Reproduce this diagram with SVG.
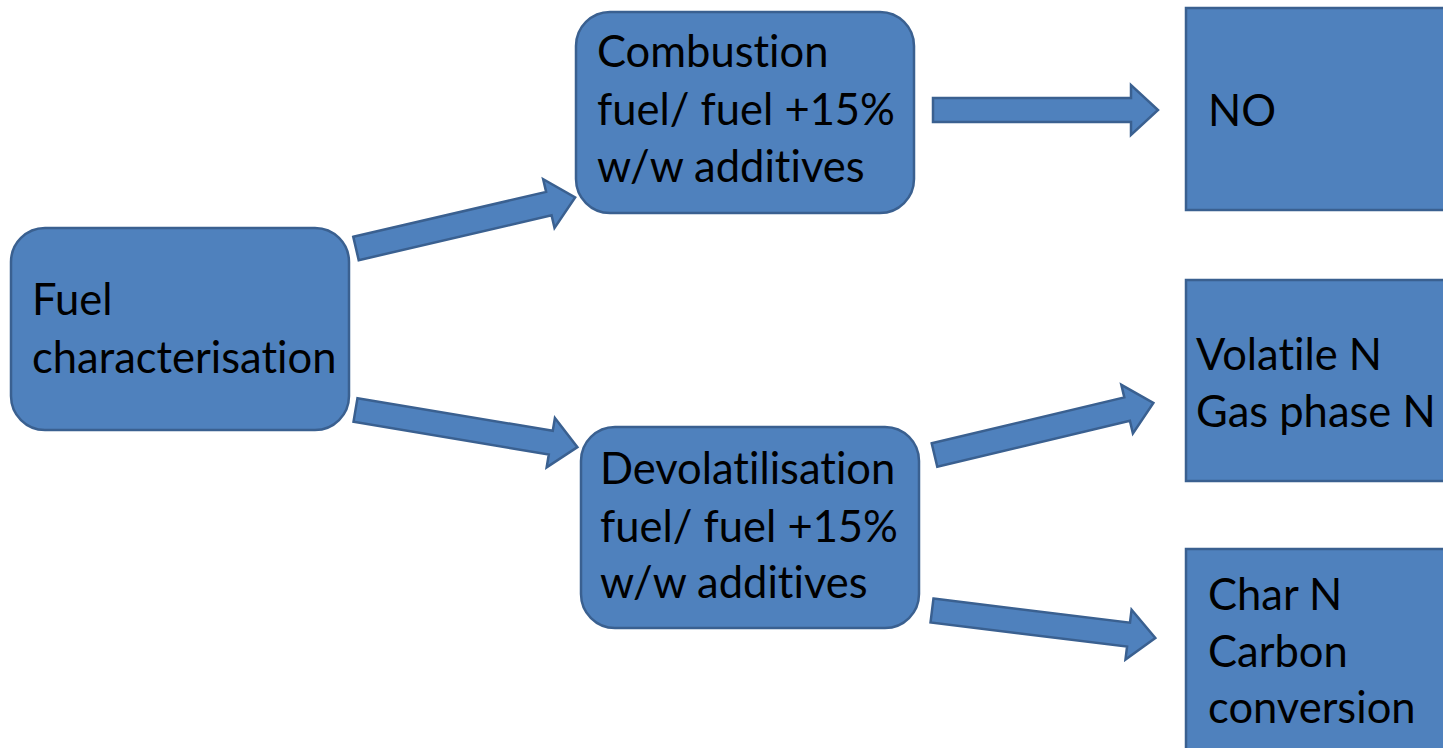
<svg xmlns="http://www.w3.org/2000/svg" width="1443" height="748" viewBox="0 0 1443 748">
<defs>
<style>
.box{fill:#4F81BD;stroke:#3A6090;stroke-width:2.5}
.arr{fill:#4F81BD;stroke:#3A6090;stroke-width:2.5;stroke-linejoin:miter}
.t{font-family:Lato,"Liberation Sans",sans-serif;font-size:43.5px;fill:#000;font-variant-ligatures:none;font-feature-settings:"liga" 0,"clig" 0,"dlig" 0,"calt" 0}
</style>
<path id="ar" d="M0,-12 L198,-12 L198,-25 L225,0 L198,25 L198,12 L0,12 Z"/>
</defs>
<rect width="1443" height="748" fill="#fff"/>
<g id="connectors">
<use href="#ar" class="arr" transform="translate(356,248.5) rotate(-13.1)"/>
<use href="#ar" class="arr" transform="translate(355.5,410) rotate(9.5)"/>
<use href="#ar" class="arr" transform="translate(933,110)"/>
<use href="#ar" class="arr" transform="translate(934.5,455) rotate(-13.4)"/>
<use href="#ar" class="arr" transform="translate(932,610.5) rotate(7)"/>
</g>
<g id="fuel">
<rect class="box" x="11" y="228" width="338" height="202" rx="34" ry="34"/>
<text class="t" x="32" y="315">Fuel</text>
<text class="t" x="32" y="373">characterisation</text>
</g>
<g id="combustion">
<rect class="box" x="576" y="12" width="338" height="201" rx="34" ry="34"/>
<text class="t" x="597" y="67">Combustion</text>
<text class="t" x="597" y="125">fuel/ fuel +15%</text>
<text class="t" x="597" y="182">w/w additives</text>
</g>
<g id="devolatilisation">
<rect class="box" x="581" y="427" width="338" height="201" rx="34" ry="34"/>
<text class="t" x="600" y="484">Devolatilisation</text>
<text class="t" x="600" y="542">fuel/ fuel +15%</text>
<text class="t" x="600" y="598">w/w additives</text>
</g>
<g id="no">
<rect class="box" x="1186" y="8" width="270" height="202"/>
<text class="t" x="1208" y="126">NO</text>
</g>
<g id="volatile">
<rect class="box" x="1186" y="280" width="270" height="201"/>
<text class="t" x="1196" y="370">Volatile N</text>
<text class="t" x="1196" y="427">Gas phase N</text>
</g>
<g id="char">
<rect class="box" x="1186" y="549" width="270" height="210"/>
<text class="t" x="1208" y="610">Char N</text>
<text class="t" x="1208" y="667">Carbon</text>
<text class="t" x="1208" y="723">conversion</text>
</g>
</svg>
